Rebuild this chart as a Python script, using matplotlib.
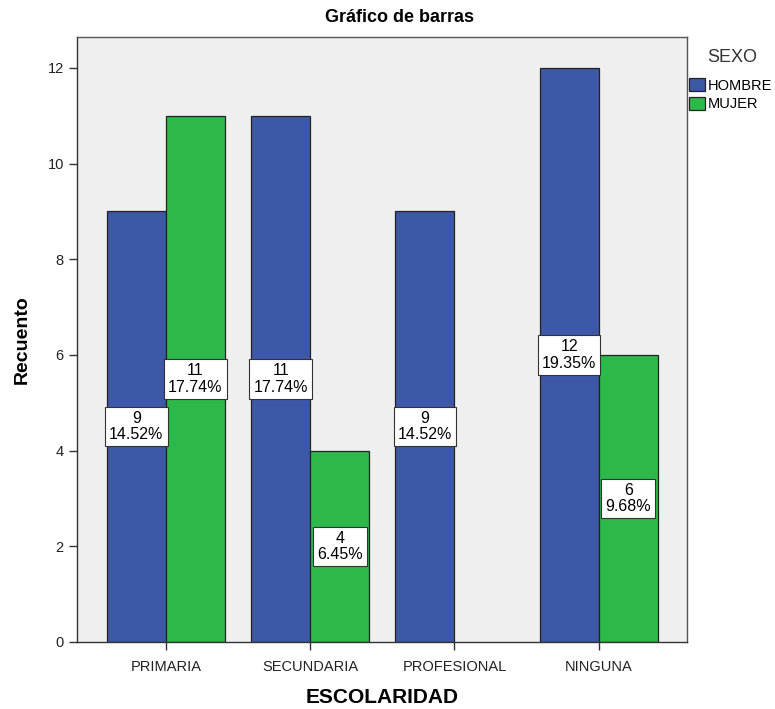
import numpy as np
import matplotlib.pyplot as plt
import matplotlib as mpl

mpl.rcParams.update({"font.family": ["Liberation Sans", "DejaVu Sans"]})

categorias = ["PRIMARIA", "SECUNDARIA", "PROFESIONAL", "NINGUNA"]
hombre = [9, 11, 9, 12]
mujer = [11, 4, 0, 6]
series = ["HOMBRE", "MUJER"]
colores = ["#3e58a8", "#2db84a"]

total = sum(hombre) + sum(mujer)

fig = plt.figure(figsize=(7.75, 7.09), dpi=100)
ax = fig.add_axes([0.0994, 0.0945, 0.7865, 0.8535])
ax.set_facecolor("#efefef")

xs = np.arange(len(categorias))
w = 0.41
for vals, col, off, name in [(hombre, colores[0], -w / 2, series[0]), (mujer, colores[1], w / 2, series[1])]:
    bars = ax.bar(xs + off, vals, width=w, color=col, edgecolor="#222222", linewidth=0.9, label=name, zorder=2)
    for b, v in zip(bars, vals):
        if v == 0:
            b.set_visible(False)  # empty cell: no bar, no label
            continue
        ax.text(b.get_x() + b.get_width() / 2, v / 2, f"{v}\n{100 * v / total:.2f}%",
                ha="center", va="center", fontsize=11.5, linespacing=1.12, zorder=4,
                bbox=dict(boxstyle="square,pad=0.25", fc="white", ec="#333333", lw=0.8))

ax.set_xlim(-0.616, 3.609)
ax.set_ylim(0, 12.65)
ax.set_yticks([0, 2, 4, 6, 8, 10, 12])
ax.set_xticks(xs)
ax.set_xticklabels(categorias)
ax.tick_params(axis="both", labelsize=10.5, length=6, width=1, color="#333333", direction="out",
               labelcolor="#222222")
ax.tick_params(axis="x", pad=7)
for s in ax.spines.values():
    s.set_color("#555555")
    s.set_linewidth(1)
ax.spines["left"].set_color("#333333")
ax.spines["bottom"].set_color("#333333")

ax.set_xlabel("ESCOLARIDAD", fontsize=15, fontweight="bold", labelpad=10)
ax.set_ylabel("Recuento", fontsize=14, fontweight="bold", labelpad=12)
fig.text(0.516, 0.976, "Gráfico de barras", ha="center", va="center", fontsize=13, fontweight="bold")

# legend title placed by hand, entries below it
fig.text(732 / 775, 1 - 57 / 709, "SEXO", ha="center", va="center", fontsize=13, color="#333333")
leg = ax.legend(loc="upper left", bbox_to_anchor=(1.0, 0.937), frameon=False,
                fontsize=10.5, handlelength=1.05, handleheight=1.05,
                handletextpad=0.2, labelspacing=0.27, borderaxespad=0.0, borderpad=0.2)
for h in leg.legend_handles:
    h.set_edgecolor("#222222")

fig.savefig("out.png", dpi=100)
